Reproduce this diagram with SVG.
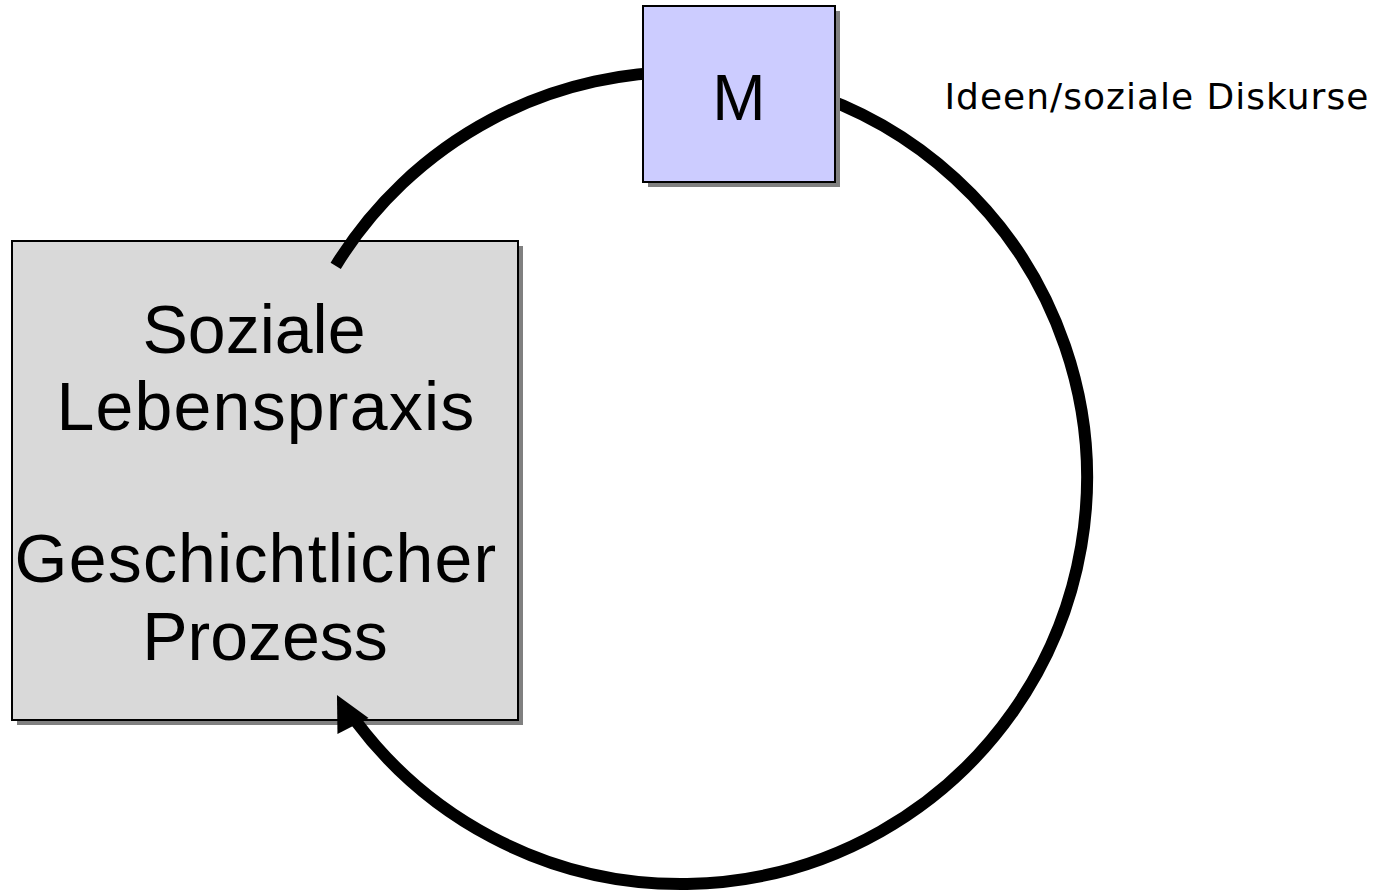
<svg xmlns="http://www.w3.org/2000/svg" width="1375" height="893" viewBox="0 0 1375 893">
  <style>
    .shadow { fill: #808080; stroke: none; }
    .box { stroke: #000000; stroke-width: 2; }
    .big { font-family: "Liberation Sans", Arial, sans-serif; font-size: 68px; fill: #000000; text-anchor: middle; }
    .wide { letter-spacing: 1.2px; }
    .label { font-family: "DejaVu Sans", Verdana, sans-serif; font-size: 36px; letter-spacing: 1px; fill: #000000; }
    .conn { fill: none; stroke: #000000; stroke-width: 12; stroke-linecap: butt; }
  </style>
  <defs>
    <marker id="arrow" markerUnits="userSpaceOnUse" markerWidth="40" markerHeight="40" refX="2.8" refY="22.3" orient="-117.3" overflow="visible">
      <path d="M0,0 L35,17.5 L0,35 Z" fill="#000000"/>
    </marker>
  </defs>
  <rect width="1375" height="893" fill="#FFFFFF"/>

  <g id="node-lebenspraxis">
    <rect class="shadow" x="17" y="246" width="506" height="479"/>
    <rect class="box" x="12" y="241" width="506" height="479" fill="#D9D9D9"/>
    <text class="big" x="254" y="353">Soziale</text>
    <text class="big wide" x="266" y="430">Lebenspraxis</text>
    <text class="big wide" x="256" y="582">Geschichtlicher</text>
    <text class="big" x="265" y="660">Prozess</text>
  </g>

  <g id="connectors">
    <path class="conn" d="M335.7,265.8 A406,406 0 0 1 700,72.4"/>
    <path class="conn" d="M800,89.8 A406,406 0 1 1 356,721.3" marker-end="url(#arrow)"/>
  </g>

  <g id="node-m">
    <rect class="shadow" x="648" y="11" width="192" height="176"/>
    <rect class="box" x="643" y="6" width="192" height="176" fill="#CCCCFF"/>
    <text class="big" x="739" y="120" style="font-size:64px">M</text>
  </g>

  <g id="label-ideen">
    <text class="label" x="944.5" y="109">Ideen/soziale Diskurse</text>
  </g>
</svg>
